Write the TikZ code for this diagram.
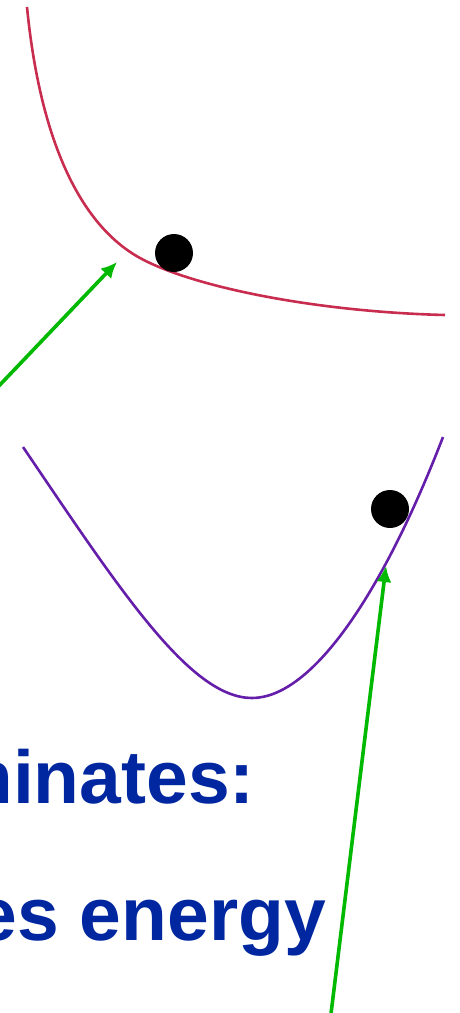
\documentclass[tikz,border=0pt]{standalone}
\usepackage{fontspec}
\setmainfont{Liberation Sans}
\usetikzlibrary{arrows.meta,positioning}
\definecolor{slideblue}{RGB}{0,38,160}
\definecolor{arrgreen}{RGB}{0,185,0}
\definecolor{curvered}{RGB}{200,45,80}
\definecolor{curvepurple}{RGB}{100,30,170}
\tikzset{
  ball/.style={circle, fill=black, inner sep=0pt, minimum size=38pt},
  ar/.style={-{Latex[length=16pt, width=15pt]}, line width=3.6pt, draw=arrgreen},
  pot/.style={line width=2.6pt},
  lbl/.style={font=\fontsize{75}{80}\selectfont\bfseries, text=slideblue, inner sep=0pt},
}
\begin{document}
\begin{tikzpicture}[x=1pt, y=-1pt]
\useasboundingbox (0,0) rectangle (460,1013);
\clip (0,0) rectangle (460,1013);
% repulsive curve and its ball
\draw[pot, curvered] (27,7) .. controls (40,140) and (80,225) .. (140,258)
  .. controls (195,288) and (320,312) .. (445,315);
\node[ball] (balltop) at (174,253) {};
% well and its ball
\draw[pot, curvepurple] (23,447) .. controls (120,590) and (190,698) .. (252,698)
  .. controls (310,698) and (380,600) .. (443,437);
\node[ball] (ballwell) at (390,509) {};
% text
\node[lbl, anchor=base east] (line1) at (255,803) {dominates:};
\node[lbl, anchor=base east] (line2) at (326,940) {minimizes energy};
% arrows
\coordinate (tailA) at (-25,411);
\coordinate (tipA) at (117,262);
\coordinate (tailB) at (329,1030);
\coordinate (tipB) at (386,566);
\draw[ar] (tailA) -- (tipA);
\draw[ar] (tailB) -- (tipB);
\end{tikzpicture}
\end{document}
